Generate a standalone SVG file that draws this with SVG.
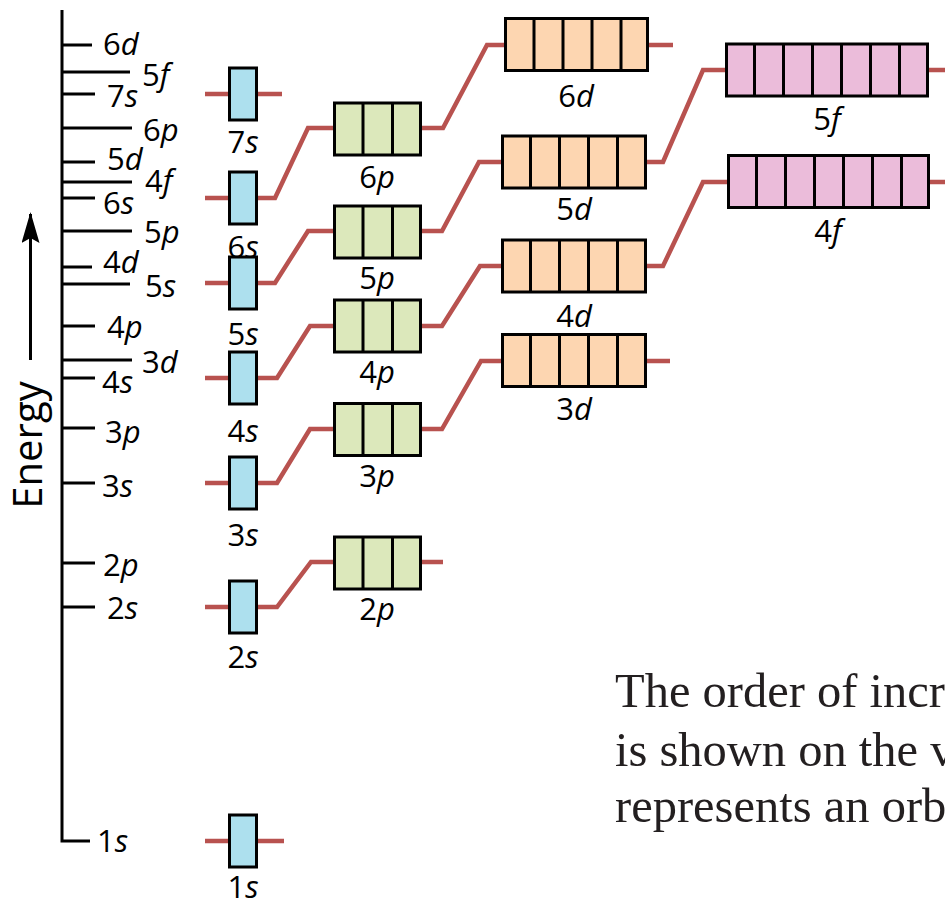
<svg xmlns="http://www.w3.org/2000/svg" width="945" height="906" viewBox="0 0 945 906">
<defs>
<style>
.ax{stroke:#000;stroke-width:3;fill:none}
.ln{stroke:#b8524f;stroke-width:4.5;fill:none;stroke-linejoin:miter}
.bx{stroke:#000;stroke-width:3}
.dv{stroke:#000;stroke-width:3}
.s{fill:#ade0ee}.p{fill:#dce8bb}.d{fill:#fdd6b1}.f{fill:#ebbcda}
.t{font-family:"Open Sans","Noto Sans",sans-serif;font-size:31px;fill:#000}
.m{text-anchor:middle}
.i{font-style:italic}
.cap{font-family:"Liberation Serif",serif;font-size:48.5px;fill:#231f20}
</style>
<marker id="ah" viewBox="0 0 31 18" refX="29" refY="9" markerWidth="31" markerHeight="18" markerUnits="userSpaceOnUse" orient="auto">
<path d="M31 9 L0 0 L5 9 L0 18 Z" fill="#000"/>
</marker>
</defs>
<rect width="945" height="906" fill="#fff"/>

<g id="axis">
<path class="ax" d="M62 10 V841 H90"/>
<path class="ax" d="M62 45H92M62 72H130M62 94H95M62 128H132M62 162H95M62 182H132M62 198H95M62 231H132M62 267H92M62 284H130M62 326H95M62 360H132M62 378H95M62 428H95M62 483H95M62 563H95M62 607H95"/>
<g class="t">
<text x="103" y="55">6<tspan class="i">d</tspan></text>
<text x="142" y="86">5<tspan class="i">f</tspan></text>
<text x="107" y="107">7<tspan class="i">s</tspan></text>
<text x="143" y="141">6<tspan class="i">p</tspan></text>
<text x="107" y="170">5<tspan class="i">d</tspan></text>
<text x="145" y="192">4<tspan class="i">f</tspan></text>
<text x="103" y="214">6<tspan class="i">s</tspan></text>
<text x="144" y="243">5<tspan class="i">p</tspan></text>
<text x="103" y="273">4<tspan class="i">d</tspan></text>
<text x="145" y="297">5<tspan class="i">s</tspan></text>
<text x="107" y="338">4<tspan class="i">p</tspan></text>
<text x="142" y="373">3<tspan class="i">d</tspan></text>
<text x="102" y="393">4<tspan class="i">s</tspan></text>
<text x="105" y="443">3<tspan class="i">p</tspan></text>
<text x="102" y="497">3<tspan class="i">s</tspan></text>
<text x="103" y="576">2<tspan class="i">p</tspan></text>
<text x="107" y="619">2<tspan class="i">s</tspan></text>
<text x="97" y="852">1<tspan class="i">s</tspan></text>
</g>
<line x1="30.5" y1="360" x2="30.5" y2="214" stroke="#000" stroke-width="3" marker-end="url(#ah)"/>
<text class="t" transform="translate(42,445) rotate(-90)" text-anchor="middle" style="font-size:40px">Energy</text>
</g>

<g id="connectors">
<polyline class="ln" points="205,841 284,841"/>
<polyline class="ln" points="205,607 277,607 311,562 443,562"/>
<polyline class="ln" points="205,483 277,483 310,429 442,429 481,361 670,361"/>
<polyline class="ln" points="205,378 277,378 310,326 442,326 480,266 663,266 703,182 945,182"/>
<polyline class="ln" points="205,283 275,283 308,231 442,231 479,162 663,162 703,70 945,70"/>
<polyline class="ln" points="205,198 275,198 308,128 443,128 487,45 673,45"/>
<polyline class="ln" points="205,94 282,94"/>
</g>

<g id="n7s"><rect class="bx s" x="229.5" y="68" width="27" height="52"/><text class="t m" x="243" y="153">7<tspan class="i">s</tspan></text></g>
<g id="n6s"><rect class="bx s" x="229.5" y="172" width="27" height="52"/><text class="t m" x="243" y="258">6<tspan class="i">s</tspan></text></g>
<g id="n5s"><rect class="bx s" x="229.5" y="257" width="27" height="52"/><text class="t m" x="243" y="345">5<tspan class="i">s</tspan></text></g>
<g id="n4s"><rect class="bx s" x="229.5" y="352" width="27" height="52"/><text class="t m" x="243" y="442">4<tspan class="i">s</tspan></text></g>
<g id="n3s"><rect class="bx s" x="229.5" y="457" width="27" height="52"/><text class="t m" x="243" y="546">3<tspan class="i">s</tspan></text></g>
<g id="n2s"><rect class="bx s" x="229.5" y="581" width="27" height="52"/><text class="t m" x="243" y="668">2<tspan class="i">s</tspan></text></g>
<g id="n1s"><rect class="bx s" x="229.5" y="815" width="27" height="52"/><text class="t m" x="243" y="898">1<tspan class="i">s</tspan></text></g>

<g id="n6p"><rect class="bx p" x="334.5" y="103" width="86" height="52"/><path class="dv" d="M363 103V155M392.5 103V155"/><text class="t m" x="377" y="188">6<tspan class="i">p</tspan></text></g>
<g id="n5p"><rect class="bx p" x="334.5" y="206" width="86" height="52"/><path class="dv" d="M363 206V258M392.5 206V258"/><text class="t m" x="377" y="289">5<tspan class="i">p</tspan></text></g>
<g id="n4p"><rect class="bx p" x="334.5" y="300" width="86" height="52"/><path class="dv" d="M363 300V352M392.5 300V352"/><text class="t m" x="377" y="383">4<tspan class="i">p</tspan></text></g>
<g id="n3p"><rect class="bx p" x="334.5" y="403.5" width="86" height="52"/><path class="dv" d="M363 403.5V455.5M392.5 403.5V455.5"/><text class="t m" x="377" y="487">3<tspan class="i">p</tspan></text></g>
<g id="n2p"><rect class="bx p" x="334.5" y="537" width="86" height="52"/><path class="dv" d="M363 537V589M392.5 537V589"/><text class="t m" x="377" y="620">2<tspan class="i">p</tspan></text></g>

<g id="n6d"><rect class="bx d" x="505.5" y="18.5" width="142" height="52"/><path class="dv" d="M534 18.5V70.5M563 18.5V70.5M592 18.5V70.5M621 18.5V70.5"/><text class="t m" x="576" y="107">6<tspan class="i">d</tspan></text></g>
<g id="n5d"><rect class="bx d" x="502.5" y="136" width="143" height="52"/><path class="dv" d="M530.5 136V188M559.5 136V188M588.5 136V188M617.5 136V188"/><text class="t m" x="574" y="220">5<tspan class="i">d</tspan></text></g>
<g id="n4d"><rect class="bx d" x="502.5" y="240" width="143" height="52"/><path class="dv" d="M530.5 240V292M559.5 240V292M588.5 240V292M617.5 240V292"/><text class="t m" x="574" y="327">4<tspan class="i">d</tspan></text></g>
<g id="n3d"><rect class="bx d" x="502.5" y="334.5" width="143" height="52"/><path class="dv" d="M530.5 334.5V386.5M559.5 334.5V386.5M588.5 334.5V386.5M617.5 334.5V386.5"/><text class="t m" x="574" y="420">3<tspan class="i">d</tspan></text></g>

<g id="n5f"><rect class="bx f" x="726.5" y="44" width="201" height="52"/><path class="dv" d="M754.5 44V96M783.5 44V96M812.5 44V96M841.5 44V96M870.5 44V96M899.5 44V96"/><text class="t m" x="827" y="130">5<tspan class="i">f</tspan></text></g>
<g id="n4f"><rect class="bx f" x="728.5" y="155.5" width="200" height="52"/><path class="dv" d="M756.5 155.5V207.5M785.5 155.5V207.5M814.5 155.5V207.5M843.5 155.5V207.5M872.5 155.5V207.5M901.5 155.5V207.5"/><text class="t m" x="828" y="242">4<tspan class="i">f</tspan></text></g>

<g id="caption" class="cap">
<text x="615" y="707">The order of incr</text>
<text x="615" y="766">is shown on the v</text>
<text x="615" y="822">represents an orb</text>
</g>
</svg>
